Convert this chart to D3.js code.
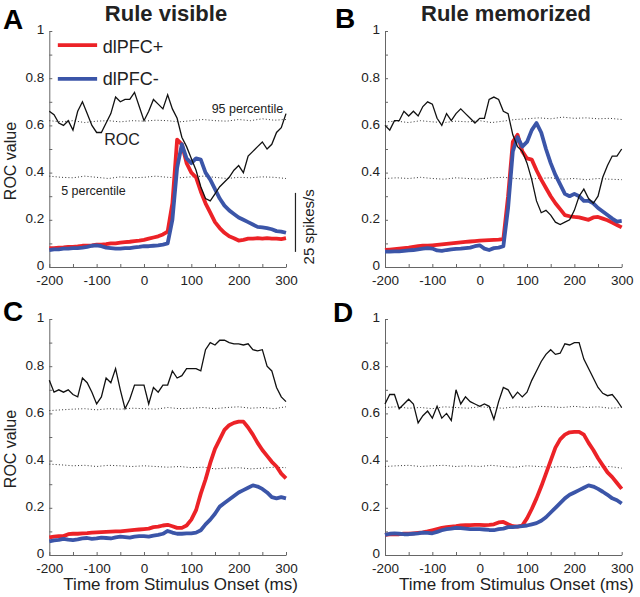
<!DOCTYPE html>
<html>
<head>
<meta charset="utf-8">
<script src="https://cdn.jsdelivr.net/npm/d3@7/dist/d3.min.js"></script>
<style>
body { margin: 0; background: #fff; }
svg { font-family: "Liberation Sans", Arial, Helvetica, sans-serif; }
.tick text { fill: #222; }
.domain, .tick line { stroke: #666; }
</style>
</head>
<body>
<script>
// time axis (ms from stimulus onset), 10 ms bins
var time = [-200,-190,-180,-170,-160,-150,-140,-130,-120,-110,-100,-90,-80,-70,-60,-50,-40,-30,-20,-10,
    0,10,20,30,40,50,60,70,80,90,100,110,120,130,140,150,160,170,180,190,200,210,220,230,240,250,260,270,280,290,300];
// coarser time base for the shuffled percentile bands
var pctTime = [-200,-175,-150,-125,-100,-75,-50,-25,0,25,50,75,100,125,150,175,200,225,250,275,300];

// panel A - rule visible, dlPFC+ vs dlPFC- (cue period)
var rocA = [0.66,0.645,0.61,0.60,0.62,0.58,0.66,0.70,0.65,0.60,0.57,0.57,0.61,0.65,0.72,0.70,0.71,0.71,0.74,0.68,
    0.62,0.66,0.71,0.69,0.67,0.73,0.67,0.63,0.55,0.51,0.46,0.41,0.34,0.29,0.28,0.31,0.34,0.36,0.38,0.41,
    0.43,0.40,0.47,0.49,0.51,0.53,0.50,0.52,0.57,0.59,0.65];
var redA = [0.08,0.08,0.082,0.083,0.085,0.085,0.087,0.09,0.09,0.092,0.095,0.095,0.097,0.10,0.10,0.103,0.105,0.107,0.11,0.112,
    0.115,0.12,0.125,0.13,0.138,0.15,0.27,0.54,0.52,0.44,0.40,0.38,0.32,0.27,0.23,0.19,0.165,0.145,0.13,0.122,
    0.112,0.115,0.12,0.12,0.122,0.12,0.122,0.12,0.12,0.118,0.122];
var blueA = [0.072,0.075,0.075,0.078,0.078,0.08,0.08,0.082,0.085,0.09,0.092,0.088,0.082,0.08,0.078,0.078,0.08,0.08,0.083,0.085,
    0.088,0.088,0.09,0.092,0.095,0.10,0.20,0.42,0.52,0.46,0.44,0.46,0.455,0.40,0.37,0.33,0.29,0.26,0.24,0.225,
    0.21,0.20,0.19,0.18,0.17,0.168,0.165,0.16,0.152,0.15,0.145];
var p95A = [0.62,0.615,0.62,0.612,0.618,0.62,0.615,0.62,0.618,0.622,0.62,0.615,0.62,0.625,0.62,0.618,0.625,0.62,0.628,0.622,0.625];
var p5A = [0.385,0.38,0.378,0.385,0.38,0.375,0.382,0.378,0.38,0.385,0.38,0.378,0.382,0.385,0.38,0.375,0.38,0.378,0.382,0.38,0.375];

// panel B - rule memorized
var rocB = [0.60,0.58,0.62,0.62,0.66,0.64,0.66,0.64,0.68,0.70,0.69,0.63,0.60,0.65,0.62,0.65,0.67,0.65,0.63,0.61,
    0.63,0.63,0.71,0.72,0.71,0.66,0.65,0.56,0.51,0.49,0.44,0.37,0.28,0.23,0.24,0.22,0.19,0.18,0.19,0.20,
    0.24,0.30,0.33,0.29,0.27,0.30,0.38,0.43,0.47,0.47,0.50];
var redB = [0.072,0.074,0.076,0.078,0.08,0.082,0.085,0.088,0.09,0.09,0.092,0.094,0.096,0.098,0.10,0.102,0.104,0.106,0.108,0.11,
    0.112,0.113,0.114,0.115,0.116,0.118,0.30,0.53,0.56,0.49,0.46,0.455,0.41,0.37,0.335,0.30,0.27,0.245,0.22,0.215,
    0.212,0.21,0.205,0.20,0.21,0.212,0.205,0.198,0.188,0.178,0.168];
var blueB = [0.065,0.065,0.066,0.066,0.068,0.07,0.072,0.075,0.078,0.08,0.078,0.07,0.068,0.072,0.075,0.077,0.078,0.08,0.082,0.088,
    0.092,0.078,0.072,0.08,0.082,0.088,0.25,0.49,0.55,0.51,0.53,0.58,0.61,0.57,0.50,0.44,0.39,0.35,0.31,0.30,
    0.31,0.30,0.28,0.28,0.27,0.25,0.235,0.22,0.205,0.192,0.195];
var p95B = [0.615,0.618,0.612,0.62,0.615,0.612,0.618,0.615,0.62,0.612,0.618,0.625,0.628,0.632,0.628,0.635,0.63,0.632,0.628,0.63,0.625];
var p5B = [0.375,0.378,0.375,0.38,0.375,0.372,0.378,0.375,0.372,0.378,0.38,0.375,0.372,0.375,0.378,0.372,0.375,0.37,0.375,0.372,0.37];

// panel C - rule visible, sample period
var rocC = [0.74,0.69,0.70,0.69,0.70,0.68,0.67,0.75,0.73,0.69,0.64,0.67,0.75,0.73,0.79,0.70,0.62,0.66,0.72,0.72,
    0.72,0.64,0.71,0.69,0.72,0.72,0.78,0.75,0.76,0.79,0.79,0.79,0.78,0.87,0.90,0.89,0.91,0.91,0.90,0.895,
    0.895,0.89,0.895,0.87,0.865,0.87,0.80,0.78,0.71,0.67,0.65];
var redC = [0.075,0.078,0.08,0.08,0.088,0.09,0.09,0.092,0.093,0.095,0.096,0.097,0.098,0.099,0.10,0.10,0.102,0.104,0.106,0.108,
    0.11,0.112,0.118,0.12,0.125,0.128,0.122,0.115,0.115,0.125,0.15,0.19,0.26,0.32,0.39,0.45,0.49,0.53,0.55,0.56,
    0.565,0.565,0.54,0.51,0.475,0.445,0.42,0.395,0.375,0.345,0.325];
var blueC = [0.058,0.062,0.064,0.068,0.065,0.063,0.066,0.07,0.072,0.068,0.07,0.074,0.072,0.07,0.075,0.078,0.076,0.074,0.078,0.08,
    0.08,0.078,0.082,0.085,0.09,0.102,0.095,0.09,0.09,0.092,0.092,0.095,0.105,0.13,0.15,0.175,0.205,0.22,0.235,0.25,
    0.265,0.275,0.285,0.295,0.29,0.28,0.265,0.245,0.24,0.245,0.24];
var p95C = [0.612,0.615,0.618,0.62,0.615,0.62,0.618,0.622,0.62,0.618,0.625,0.62,0.622,0.625,0.62,0.625,0.628,0.622,0.625,0.62,0.628];
var p5C = [0.385,0.382,0.378,0.38,0.375,0.38,0.378,0.375,0.378,0.375,0.372,0.375,0.37,0.372,0.365,0.368,0.37,0.365,0.368,0.372,0.37];

// panel D - rule memorized, sample period
var rocD = [0.64,0.68,0.68,0.62,0.64,0.66,0.64,0.56,0.59,0.61,0.58,0.63,0.58,0.60,0.57,0.70,0.64,0.67,0.65,0.64,
    0.63,0.64,0.63,0.575,0.65,0.71,0.70,0.665,0.69,0.67,0.69,0.74,0.78,0.82,0.85,0.87,0.85,0.855,0.895,0.89,
    0.90,0.90,0.83,0.79,0.75,0.71,0.685,0.675,0.68,0.655,0.625];
var redD = [0.085,0.087,0.088,0.088,0.09,0.09,0.092,0.094,0.096,0.10,0.105,0.11,0.115,0.118,0.12,0.122,0.125,0.126,0.127,0.128,
    0.128,0.127,0.128,0.13,0.138,0.14,0.13,0.122,0.12,0.125,0.155,0.195,0.24,0.29,0.345,0.40,0.455,0.49,0.51,0.52,
    0.522,0.522,0.51,0.475,0.445,0.41,0.38,0.35,0.33,0.305,0.28];
var blueD = [0.085,0.09,0.092,0.09,0.088,0.088,0.09,0.092,0.095,0.094,0.092,0.098,0.105,0.11,0.112,0.115,0.114,0.112,0.11,0.11,
    0.11,0.108,0.106,0.105,0.11,0.112,0.118,0.118,0.12,0.122,0.125,0.13,0.135,0.145,0.16,0.18,0.20,0.22,0.24,0.255,
    0.265,0.275,0.285,0.295,0.29,0.28,0.268,0.255,0.24,0.232,0.218];
var p95D = [0.625,0.628,0.622,0.625,0.62,0.628,0.625,0.622,0.628,0.625,0.622,0.628,0.625,0.63,0.628,0.625,0.63,0.625,0.628,0.622,0.625];
var p5D = [0.375,0.378,0.38,0.375,0.378,0.38,0.375,0.378,0.375,0.38,0.375,0.372,0.378,0.375,0.372,0.375,0.37,0.375,0.372,0.375,0.368];

var xTicks = [-200,-150,-100,-50,0,50,100,150,200,250,300];
var yTicks = [0,0.1,0.2,0.3,0.4,0.5,0.6,0.7,0.8,0.9,1];
var seriesNames = ["dlPFC+", "dlPFC-"];
var scaleBarLabel = "25 spikes/s";

var red = "#ec2227", blue = "#3b55a8";

//svg container
var svg = d3.select("body")
    .append("svg")
    .attr("width", 640)
    .attr("height", 597);

var panels = [
    {letter: "A", title: "Rule visible", roc: rocA, red: redA, blue: blueA, p95: p95A, p5: p5A,
        left: 49.3, right: 286, bottom: 267, top: 31, ylab: true, xlab: false, lx: 3, ly: 29, tx: 166},
    {letter: "B", title: "Rule memorized", roc: rocB, red: redB, blue: blueB, p95: p95B, p5: p5B,
        left: 385, right: 621.7, bottom: 267, top: 31, ylab: false, xlab: false, lx: 335, ly: 28, tx: 506},
    {letter: "C", roc: rocC, red: redC, blue: blueC, p95: p95C, p5: p5C,
        left: 49.3, right: 286, bottom: 555, top: 319, ylab: true, xlab: true, lx: 3, ly: 321},
    {letter: "D", roc: rocD, red: redD, blue: blueD, p95: p95D, p5: p5D,
        left: 385, right: 621.7, bottom: 555, top: 319, ylab: false, xlab: true, lx: 333, ly: 322}
];

panels.forEach(drawPanel);

function drawPanel(p) {
    var x = d3.scaleLinear().domain([-200, 300]).range([p.left, p.right]);
    var y = d3.scaleLinear().domain([0, 1]).range([p.bottom, p.top]);
    var g = svg.append("g");

    // axes, ticks pointing inward; only every other tick is labelled
    g.append("g")
        .attr("transform", "translate(0," + p.bottom + ")")
        .call(d3.axisBottom(x).tickValues(xTicks).tickSizeInner(-3).tickSizeOuter(0).tickPadding(8)
            .tickFormat(function(d){ return d % 100 === 0 ? d : ""; }));
    var yAxis = g.append("g")
        .attr("transform", "translate(" + p.left + ",0)")
        .call(d3.axisLeft(y).tickValues(yTicks).tickSizeInner(-3).tickSizeOuter(0).tickPadding(5)
            .tickFormat(function(d, i){ return i % 2 === 0 ? d3.format("~g")(d) : ""; }));
    yAxis.selectAll(".tick text").attr("dy", "0.22em");
    g.selectAll(".tick text").filter(function(){ return this.textContent === ""; }).remove();
    g.selectAll(".tick text").style("font-size", "13.5px");

    var line = d3.line()
        .x(function(d){ return x(d[0]); })
        .y(function(d){ return y(d[1]); });

    // shuffled 95th and 5th percentile bands
    [p.p95, p.p5].forEach(function(s){
        g.append("path")
            .datum(d3.zip(pctTime, s))
            .attr("d", line)
            .attr("fill", "none")
            .attr("stroke", "#333")
            .attr("stroke-width", 1)
            .attr("stroke-dasharray", "1,2.2");
    });

    g.append("path").datum(d3.zip(time, p.red)).attr("d", line)
        .attr("fill", "none").attr("stroke", red).attr("stroke-width", 3.8).attr("stroke-linejoin", "round");
    g.append("path").datum(d3.zip(time, p.blue)).attr("d", line)
        .attr("fill", "none").attr("stroke", blue).attr("stroke-width", 3.8).attr("stroke-linejoin", "round");
    g.append("path").datum(d3.zip(time, p.roc)).attr("d", line)
        .attr("fill", "none").attr("stroke", "#111").attr("stroke-width", 1.3);

    // panel letter and title
    svg.append("text").attr("x", p.lx).attr("y", p.ly)
        .style("font-size", "28px").style("font-weight", "bold").text(p.letter);
    if (p.title) {
        svg.append("text").attr("x", p.tx).attr("y", 21).attr("text-anchor", "middle")
            .style("font-size", "22px").style("font-weight", "bold").attr("fill", "#222").text(p.title);
    }
    if (p.ylab) {
        svg.append("text")
            .attr("transform", "translate(16," + ((p.top + p.bottom) / 2 + 12) + ") rotate(-90)")
            .attr("text-anchor", "middle").style("font-size", "16px").attr("fill", "#222").text("ROC value");
    }
    if (p.xlab) {
        svg.append("text").attr("x", (p.left + p.right) / 2 + 13).attr("y", 590)
            .attr("text-anchor", "middle").style("font-size", "17px").attr("fill", "#222")
            .text("Time from Stimulus Onset (ms)");
    }

    if (p.letter === "A") {
        // legend
        [[red, 0.94, 0.907], [blue, 0.797, 0.771]].forEach(function(l, i){
            g.append("line").attr("x1", x(-182)).attr("x2", x(-99)).attr("y1", y(l[1])).attr("y2", y(l[1]))
                .attr("stroke", l[0]).attr("stroke-width", 3.8);
            g.append("text").attr("x", x(-87)).attr("y", y(l[2]))
                .style("font-size", "18px").attr("fill", "#222").text(seriesNames[i]);
        });
        // annotations
        g.append("text").attr("x", x(143)).attr("y", y(0.653)).style("font-size", "12.5px").attr("fill", "#222").text("95 percentile");
        g.append("text").attr("x", x(-84)).attr("y", y(0.517)).style("font-size", "16px").attr("fill", "#222").text("ROC");
        g.append("text").attr("x", x(-175)).attr("y", y(0.305)).style("font-size", "12.5px").attr("fill", "#222").text("5 percentile");
        // 25 spikes/s scale bar
        g.append("line").attr("x1", x(320)).attr("x2", x(320)).attr("y1", y(0.064)).attr("y2", y(0.314))
            .attr("stroke", "#222").attr("stroke-width", 1.2);
        g.append("text")
            .attr("transform", "translate(" + (x(320) + 19) + "," + y(0.17) + ") rotate(-90)")
            .attr("text-anchor", "middle").style("font-size", "15px").attr("fill", "#222").text(scaleBarLabel);
    }
}
</script>
</body>
</html>
